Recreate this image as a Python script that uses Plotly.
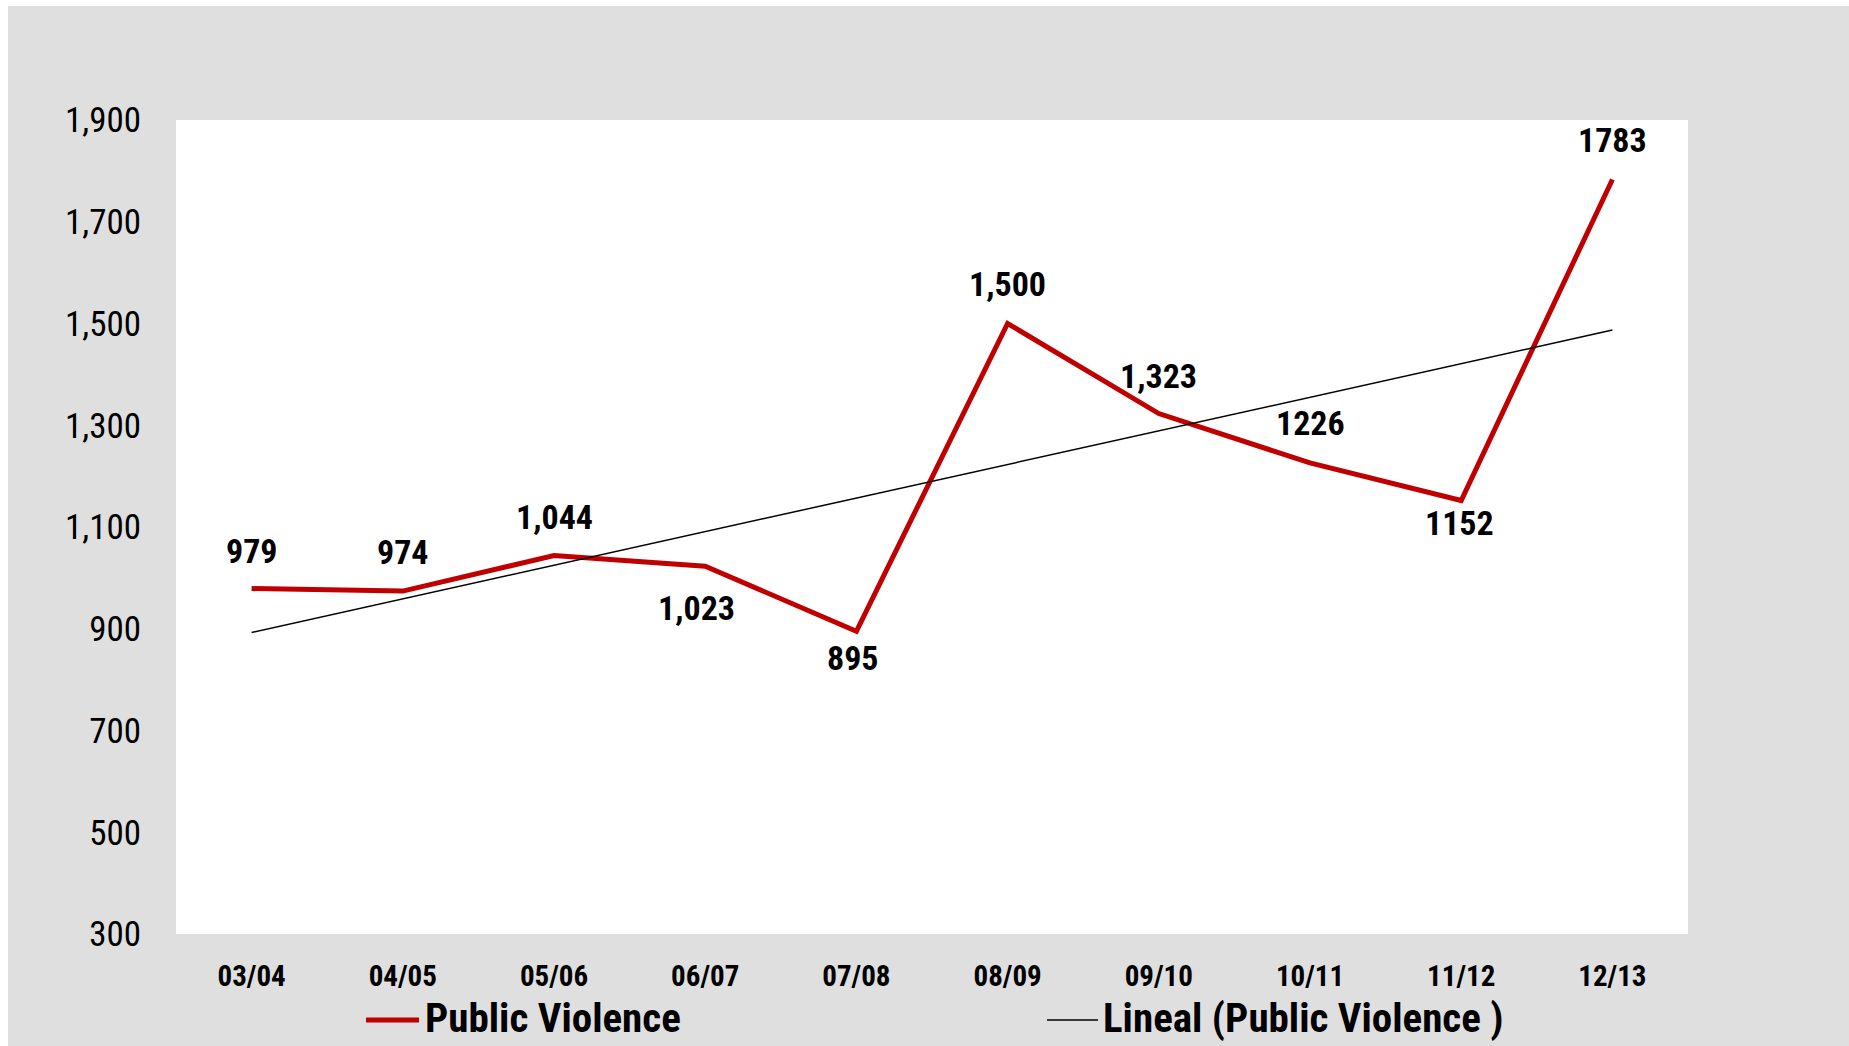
import numpy as np
import plotly.graph_objects as go

categories = ["03/04", "04/05", "05/06", "06/07", "07/08", "08/09", "09/10", "10/11", "11/12", "12/13"]
public_violence = [979, 974, 1044, 1023, 895, 1500, 1323, 1226, 1152, 1783]
value_labels = ["979", "974", "1,044", "1,023", "895", "1,500", "1,323", "1226", "1152", "1783"]
y_ticks = [300, 500, 700, 900, 1100, 1300, 1500, 1700, 1900]
y_tick_labels = ["300", "500", "700", "900", "1,100", "1,300", "1,500", "1,700", "1,900"]
series_names = ["Public Violence", "Lineal (Public Violence )"]

# label placement (pixels): positive = above the point
label_yshift = [38, 39, 38, -42, -27, 40, 38, 40, -22, 40]
label_xshift = [0, 0, 0, -9, -3, 0, 0, 0, -2, 0]

# linear trendline (Excel "Lineal")
xi = np.arange(len(public_violence))
slope, intercept = np.polyfit(xi, public_violence, 1)
trend = slope * xi + intercept

FONT = "Liberation Sans Narrow, Arial Narrow, Roboto Condensed, Liberation Sans, Arial, sans-serif"
W, H = 1849, 1046
L, R, T, B = 176, 161, 120, 112
PW, PH = W - L - R, H - T - B

fig = go.Figure()
fig.add_trace(go.Scatter(
    x=categories, y=public_violence, mode="lines", name=series_names[0],
    line=dict(color="#C00000", width=5), showlegend=False,
))
fig.add_trace(go.Scatter(
    x=categories, y=trend, mode="lines", name=series_names[1],
    line=dict(color="#000000", width=1.5), showlegend=False,
))

for c, v, t, dy, dx in zip(categories, public_violence, value_labels, label_yshift, label_xshift):
    fig.add_annotation(x=c, y=v, text="<b>%s</b>" % t, showarrow=False,
                       yshift=dy, xshift=dx,
                       font=dict(family=FONT, size=34, color="#000000"))

def px_x(p):
    return (p - L) / PW

def px_y(p):
    return (H - B - p) / PH

shapes = [
    dict(type="rect", xref="paper", yref="paper", x0=px_x(0), x1=px_x(8), y0=px_y(H), y1=px_y(0),
         fillcolor="#ffffff", line=dict(width=0), layer="above"),
    dict(type="rect", xref="paper", yref="paper", x0=px_x(0), x1=px_x(W), y0=px_y(6), y1=px_y(0),
         fillcolor="#ffffff", line=dict(width=0), layer="above"),
    # legend keys
    dict(type="line", xref="paper", yref="paper", x0=px_x(366), x1=px_x(419), y0=px_y(1020), y1=px_y(1020),
         line=dict(color="#C00000", width=5), layer="above"),
    dict(type="line", xref="paper", yref="paper", x0=px_x(1047), x1=px_x(1098), y0=px_y(1020), y1=px_y(1020),
         line=dict(color="#000000", width=1.5), layer="above"),
]

legend_text_x = [424, 1102]
for name, lx in zip(series_names, legend_text_x):
    fig.add_annotation(xref="paper", yref="paper", x=px_x(lx), y=px_y(1018),
                       xanchor="left", yanchor="middle", showarrow=False,
                       text="<b>%s</b>" % name, borderpad=0,
                       font=dict(family=FONT, size=41, color="#000000"))

fig.update_layout(
    width=W, height=H,
    margin=dict(l=L, r=R, t=T, b=B, pad=0),
    paper_bgcolor="#dfdfdf",
    plot_bgcolor="#ffffff",
    shapes=shapes,
    showlegend=False,
    xaxis=dict(
        type="category", range=[-0.5, len(categories) - 0.5],
        showgrid=False, zeroline=False, showline=False, ticks="",
        tickfont=dict(family=FONT, size=29, color="#000000"),
        ticklabelstandoff=22,
        tickvals=categories, ticktext=["<b>%s</b>" % c for c in categories],
    ),
    yaxis=dict(
        range=[300, 1900], tickvals=y_ticks, ticktext=y_tick_labels,
        showgrid=False, zeroline=False, showline=False, ticks="",
        tickfont=dict(family=FONT, size=35, color="#000000"),
        ticklabelstandoff=34,
    ),
)

fig.write_html("out.html")
